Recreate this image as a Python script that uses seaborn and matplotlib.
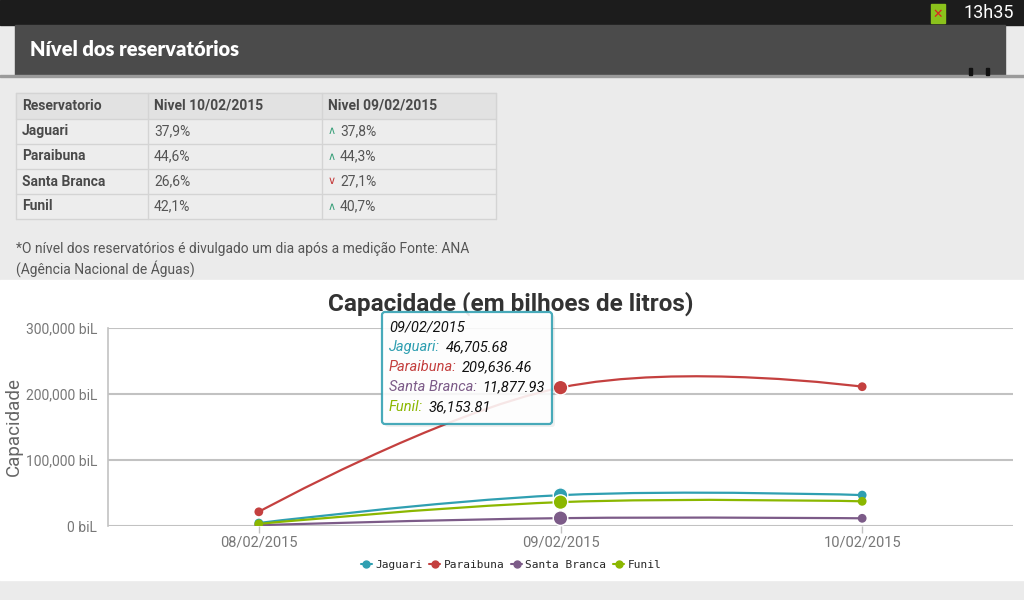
import matplotlib
matplotlib.use('Agg')
import matplotlib.pyplot as plt
import seaborn as sns
import pandas as pd
from matplotlib.path import Path
from matplotlib.patches import Rectangle, PathPatch, FancyBboxPatch
from matplotlib.lines import Line2D
from matplotlib.ticker import FuncFormatter

# ---- data ----
dates = ['08/02/2015', '09/02/2015', '10/02/2015']
reservoirs = ['Jaguari', 'Paraibuna', 'Santa Branca', 'Funil']
jaguari = [4500, 46705.68, 46829.24]
paraibuna = [21500, 209636.46, 211056.11]
santa_branca = [1200, 11877.93, 11659.04]
funil = [3200, 36153.81, 37396.97]
hover_day = 1

table_cols = ['Reservatorio', 'Nivel 10/02/2015', 'Nivel 09/02/2015']
nivel_10 = ['37,9%', '44,6%', '26,6%', '42,1%']
nivel_09 = ['37,8%', '44,3%', '27,1%', '40,7%']
trend = ['up', 'up', 'down', 'up']

colors = {'Jaguari': '#2f9fb1', 'Paraibuna': '#c4403f',
          'Santa Branca': '#7c5b88', 'Funil': '#8bb700'}

series = {'Jaguari': jaguari, 'Paraibuna': paraibuna,
          'Santa Branca': santa_branca, 'Funil': funil}
df = pd.DataFrame([{'dia': i, 'data': d, 'Reservatorio': r, 'cap': series[r][i]}
                   for r in reservoirs for i, d in enumerate(dates)])

sns.set_theme(style='white')
plt.rcParams['font.family'] = ['Roboto', 'DejaVu Sans']

W, H = 1024, 600
fig = plt.figure(figsize=(W / 100, H / 100), dpi=100)
fig.patch.set_facecolor('#ebebeb')

# page decoration (pixel coords)
bg = fig.add_axes([0, 0, 1, 1], zorder=0)
bg.set_xlim(0, W)
bg.set_ylim(H, 0)
bg.axis('off')
bg.add_patch(Rectangle((0, 0), W, 25, color='#1c1c1c'))
bg.add_patch(Rectangle((15, 25), 990, 50, color='#4b4b4b'))
bg.add_patch(Rectangle((0, 75), W, 2, color='#9a9a9a'))
bg.add_patch(Rectangle((969, 68), 3, 7, color='#111111'))
bg.add_patch(Rectangle((986, 68), 3, 7, color='#111111'))
bg.text(30, 50, 'Nível dos reservatórios', color='white', fontsize=14.5,
        fontweight='heavy', family='Lato', va='center')
bg.text(1014, 13, '13h35', color='white', fontsize=13, ha='right', va='center')
bg.add_patch(Rectangle((931, 4), 14, 19, color='#8bc21c'))
bg.text(938, 14, '✕', color='#d22', fontsize=9, ha='center', va='center',
        family='DejaVu Sans', fontweight='bold')

# table
col_x = [16, 148, 322, 496]
row_y = [93, 119, 144, 169, 194, 219]
bg.add_patch(Rectangle((16, 93), 480, 26, color='#e2e2e2'))
for y0 in row_y[1:-1]:
    bg.add_patch(Rectangle((16, y0), 480, 25, facecolor='#ededed', edgecolor='none'))
for y0 in row_y:
    bg.plot([16, 496], [y0, y0], color='#d4d4d4', lw=1)
for x0 in col_x:
    bg.plot([x0, x0], [93, 219], color='#d4d4d4', lw=1)
for j, c in enumerate(table_cols):
    bg.text(col_x[j] + 6, 106, c, fontsize=10, fontweight='bold', color='#4a4a4a', va='center')
for i, r in enumerate(reservoirs):
    yc = (row_y[i + 1] + row_y[i + 2]) / 2
    bg.text(22, yc, r, fontsize=10, fontweight='bold', color='#4a4a4a', va='center')
    bg.text(154, yc, nivel_10[i], fontsize=10, color='#555555', va='center')
    up = trend[i] == 'up'
    bg.text(332, yc, '∧' if up else '∨', fontsize=8, family='DejaVu Sans',
            color='#3aa07a' if up else '#c43a3a', ha='center', va='center')
    bg.text(340, yc, nivel_09[i], fontsize=10, color='#555555', va='center')

bg.text(16, 249, '*O nível dos reservatórios é divulgado um dia após a medição Fonte: ANA',
        fontsize=10, color='#555555', va='center')
bg.text(16, 269, '(Agência Nacional de Águas)', fontsize=10, color='#555555', va='center')

# chart panel
bg.add_patch(Rectangle((0, 280), W, 300, color='white'))
bg.text(511, 304, 'Capacidade (em bilhoes de litros)', fontsize=17.5, fontweight='bold',
        color='#333333', ha='center', va='center')

ax = fig.add_axes([108 / W, (H - 526) / H, (1013 - 108) / W, (526 - 328) / H], zorder=1)
ax.patch.set_alpha(0)


def spline_path(xs, ys, smooth=1.5):
    # Highcharts-style spline through the points
    n = len(xs)
    lc, rc = [None] * n, [None] * n
    for i in range(1, n - 1):
        d = smooth + 1
        lx = (smooth * xs[i] + xs[i - 1]) / d
        ly = (smooth * ys[i] + ys[i - 1]) / d
        rx = (smooth * xs[i] + xs[i + 1]) / d
        ry = (smooth * ys[i] + ys[i + 1]) / d
        corr = (ry - ly) * (rx - xs[i]) / (rx - lx) + ys[i] - ry
        lc[i] = (lx, ly + corr)
        rc[i] = (rx, ry + corr)
    verts = [(xs[0], ys[0])]
    codes = [Path.MOVETO]
    for i in range(1, n):
        c1 = rc[i - 1] if rc[i - 1] else (xs[i - 1], ys[i - 1])
        c2 = lc[i] if lc[i] else (xs[i], ys[i])
        verts += [c1, c2, (xs[i], ys[i])]
        codes += [Path.CURVE4] * 3
    return Path(verts, codes)


for r in reservoirs:
    sub = df[df.Reservatorio == r]
    ax.add_patch(PathPatch(spline_path(list(sub.dia), list(sub.cap)), facecolor='none',
                           edgecolor=colors[r], lw=1.6, zorder=2))

sns.scatterplot(data=df[df.dia != hover_day], x='dia', y='cap', hue='Reservatorio',
                palette=colors, s=40, linewidth=0, ax=ax, legend=False, zorder=3)
sns.scatterplot(data=df[df.dia == hover_day], x='dia', y='cap', hue='Reservatorio',
                palette=colors, s=110, edgecolor='white', linewidth=1, ax=ax,
                legend=False, zorder=4)

ax.set_xlim(-0.5, 2.5)
ax.set_ylim(0, 300000)
ax.set_xticks(range(len(dates)))
ax.set_xticklabels(dates)
ax.set_yticks([0, 100000, 200000, 300000])
ax.yaxis.set_major_formatter(FuncFormatter(lambda v, p: f'{v:,.0f} biL'))
ax.yaxis.grid(True, color='#c2c2c2', lw=1.5)
ax.xaxis.grid(False)
for s in ['top', 'right', 'bottom']:
    ax.spines[s].set_visible(False)
ax.spines['left'].set_color('#c2c2c2')
ax.spines['left'].set_linewidth(1.2)
ax.tick_params(axis='y', length=0, pad=8, labelsize=10, labelcolor='#777777')
ax.tick_params(axis='x', length=5, width=1, color='#c2c2c2', direction='out', pad=2,
               labelsize=10.5, labelcolor='#777777', bottom=True)
ax.set_xlabel('')
ax.set_ylabel('Capacidade', fontsize=13.5, color='#666666', labelpad=6)
ax.yaxis.set_label_coords(-0.094, 0.5)

handles = [Line2D([0], [0], color=colors[r], marker='o', markersize=5, lw=1.5) for r in reservoirs]
fig.legend(handles, reservoirs, loc='center', bbox_to_anchor=(511 / W, 1 - 565 / H), ncol=4,
           frameon=False, handlelength=1.0, handletextpad=0.3, columnspacing=0.6,
           prop={'family': 'DejaVu Sans Mono', 'size': 8})

# tooltip overlay
ov = fig.add_axes([0, 0, 1, 1], zorder=5)
ov.set_xlim(0, W)
ov.set_ylim(H, 0)
ov.axis('off')
ov.add_patch(FancyBboxPatch((385, 315), 170, 112, boxstyle='round,pad=0,rounding_size=3',
                            facecolor='#000000', alpha=0.06, edgecolor='none'))
ov.add_patch(FancyBboxPatch((382, 312), 170, 112, boxstyle='round,pad=0,rounding_size=3',
                            facecolor='white', alpha=0.88, edgecolor='#2f9fb1', lw=1.6))
ov.text(389, 327, dates[hover_day], fontsize=10.5, style='italic', color='#111111', va='center')
for k, r in enumerate(reservoirs):
    yk = 347 + 20 * k
    lab = ov.text(389, yk, r + ':', fontsize=10.5, style='italic', color=colors[r], va='center')
    ov.annotate(f'{series[r][hover_day]:,.2f}', xy=(1, 0.5), xycoords=lab, xytext=(4, 0),
                textcoords='offset points', va='center', fontsize=10.5, style='italic',
                color='#111111')

fig.savefig('out.png', dpi=100)
